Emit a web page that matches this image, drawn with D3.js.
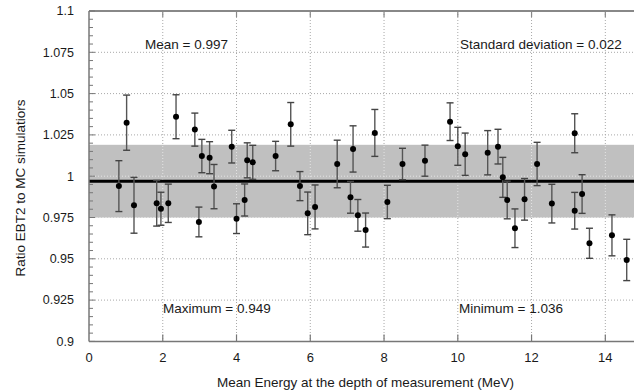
<!DOCTYPE html>
<html><head><meta charset="utf-8">
<script src="https://cdn.jsdelivr.net/npm/d3@7"></script>
<style>
html,body{margin:0;padding:0;background:#fff;overflow:hidden;}
text{font-family:"Liberation Sans",Arial,sans-serif;fill:#1a1a1a;}
</style></head>
<body>
<script>
const energy = [0.81,1.02,1.22,1.835,1.95,2.15,2.36,2.87,2.98,3.06,3.27,3.39,3.87,4.0,4.22,4.29,4.44,5.06,5.47,5.72,5.93,6.13,6.73,7.09,7.16,7.29,7.5,7.75,8.09,8.5,9.11,9.79,10.0,10.2,10.81,11.09,11.22,11.34,11.55,11.81,12.15,12.55,13.17,13.17,13.37,13.57,14.18,14.58];
const ratio = [0.994,1.0324,0.9824,0.9836,0.9803,0.9836,1.036,1.0282,0.9723,1.0122,1.0112,0.9937,1.0179,0.9743,0.9856,1.0096,1.0084,1.0122,1.0314,0.994,0.9775,0.9814,1.0074,0.9872,1.0165,0.9763,0.9674,1.0262,0.9844,1.0074,1.0094,1.033,1.0181,1.0133,1.0142,1.0179,0.9993,0.9856,0.9685,0.986,1.0074,0.9834,1.026,0.9791,0.9892,0.9594,0.9642,0.9493];
const uncertainty = [0.0154,0.0167,0.0169,0.0138,0.010,0.0116,0.0133,0.010,0.009,0.0101,0.0097,0.0134,0.0099,0.009,0.0097,0.0106,0.0103,0.0089,0.0132,0.0088,0.0129,0.0133,0.0144,0.0096,0.014,0.0096,0.0103,0.0142,0.0101,0.0095,0.0094,0.0114,0.0115,0.0128,0.0134,0.0105,0.0121,0.0114,0.0117,0.0126,0.0131,0.0117,0.0118,0.0111,0.0117,0.0091,0.0124,0.0125];
const meanValue = 0.997;
const stdValue = 0.022;
const xTicks = [0,2,4,6,8,10,12,14];
const yTicks = [0.9,0.925,0.95,0.975,1,1.025,1.05,1.075,1.1];
const yTickLabels = ["0.9","0.925","0.95","0.975","1","1.025","1.05","1.075","1.1"];
const annotations = [
  {text:"Mean = 0.997", x:0.0, y:1.075, pos:"tl"},
];
const xLabel = "Mean Energy at the depth of measurement (MeV)";
const yLabel = "Ratio EBT2 to MC simulatiors";

const W = 634, H = 391;
const L = 89, T = 11, B = 341.4;
const x = d3.scaleLinear().domain([0,15]).range([L, L + 15*36.88]);
const y = d3.scaleLinear().domain([0.9,1.1]).range([B, T]);
const R = W;

const svg = d3.select("body").append("svg").attr("width",W).attr("height",H);

// grid
const grid = svg.append("g");
function drawGrid(g, color){
  g.selectAll(".vg").data(xTicks.filter(d=>d>0)).join("line")
    .attr("x1",d=>x(d)).attr("x2",d=>x(d)).attr("y1",T).attr("y2",B)
    .attr("stroke",color).attr("stroke-width",1).attr("stroke-dasharray","1,2");
  g.selectAll(".hg").data(yTicks.filter(d=>d>0.9 && d<1.1)).join("line")
    .attr("y1",d=>y(d)).attr("y2",d=>y(d)).attr("x1",L).attr("x2",R)
    .attr("stroke",color).attr("stroke-width",1).attr("stroke-dasharray","1,2");
}
drawGrid(grid.append("g"), "#a8a8a8");

// band
svg.append("rect").attr("x",L).attr("width",R-L)
  .attr("y",y(meanValue+stdValue)).attr("height",y(meanValue-stdValue)-y(meanValue+stdValue))
  .attr("fill","#c0c0c0");
svg.append("clipPath").attr("id","bandclip").append("rect").attr("x",L).attr("width",R-L)
  .attr("y",y(meanValue+stdValue)).attr("height",y(meanValue-stdValue)-y(meanValue+stdValue));
drawGrid(svg.append("g").attr("clip-path","url(#bandclip)"), "#e4e4e4");

// mean line
svg.append("line").attr("x1",L).attr("x2",R).attr("y1",y(meanValue)).attr("y2",y(meanValue))
  .attr("stroke","#000").attr("stroke-width",3);

// frame
svg.append("line").attr("x1",L).attr("x2",R).attr("y1",T).attr("y2",T).attr("stroke","#888").attr("stroke-width",2);
svg.append("line").attr("x1",L).attr("x2",R).attr("y1",B).attr("y2",B).attr("stroke","#777").attr("stroke-width",1.5);
svg.append("line").attr("x1",L).attr("x2",L).attr("y1",T).attr("y2",B).attr("stroke","#777").attr("stroke-width",1.5);

// x ticks bottom & top
svg.append("g").selectAll("line").data(xTicks.filter(d=>d>0)).join("line")
  .attr("x1",d=>x(d)).attr("x2",d=>x(d)).attr("y1",B).attr("y2",B-7).attr("stroke","#777").attr("stroke-width",1.2);
svg.append("g").selectAll("line").data(xTicks.filter(d=>d>0)).join("line")
  .attr("x1",d=>x(d)).attr("x2",d=>x(d)).attr("y1",T).attr("y2",T+6).attr("stroke","#888").attr("stroke-width",1.2);
// y ticks (major + minor)
const minor = d3.range(0, 41).map(i => 0.9 + i*0.005);
svg.append("g").selectAll("line").data(minor).join("line")
  .attr("x1",L).attr("x2",(d,i)=> i%5===0 ? L+6 : L+4)
  .attr("y1",d=>y(d)).attr("y2",d=>y(d)).attr("stroke","#777").attr("stroke-width",1);

// tick labels
svg.append("g").selectAll("text").data(xTicks).join("text")
  .attr("x",d=>x(d)).attr("y",362).attr("text-anchor","middle").attr("font-size",13).text(d=>d);
svg.append("g").selectAll("text").data(yTicks).join("text")
  .attr("x",74).attr("y",d=>y(d)).attr("dy","0.35em").attr("text-anchor","end").attr("font-size",12.5)
  .text((d,i)=>yTickLabels[i]);

// error bars
const pts = energy.map((e,i)=>({x:e, y:ratio[i], u:uncertainty[i]}));
const eb = svg.append("g");
eb.selectAll(".v").data(pts).join("line")
  .attr("x1",d=>x(d.x)).attr("x2",d=>x(d.x)).attr("y1",d=>y(d.y+d.u)).attr("y2",d=>y(d.y-d.u))
  .attr("stroke","#555").attr("stroke-width",1.4);
eb.selectAll(".ct").data(pts).join("line")
  .attr("x1",d=>x(d.x)-3.5).attr("x2",d=>x(d.x)+3.5).attr("y1",d=>y(d.y+d.u)).attr("y2",d=>y(d.y+d.u))
  .attr("stroke","#444").attr("stroke-width",1.4);
eb.append("g").selectAll("line").data(pts).join("line")
  .attr("x1",d=>x(d.x)-3.5).attr("x2",d=>x(d.x)+3.5).attr("y1",d=>y(d.y-d.u)).attr("y2",d=>y(d.y-d.u))
  .attr("stroke","#444").attr("stroke-width",1.4);
svg.append("g").selectAll("circle").data(pts).join("circle")
  .attr("cx",d=>x(d.x)).attr("cy",d=>y(d.y)).attr("r",3).attr("fill","#000");

// annotations
const fs = 13.5;
svg.append("text").attr("x",145).attr("y",49).attr("font-size",fs).text("Mean = 0.997");
svg.append("text").attr("x",460).attr("y",49).attr("font-size",fs).text("Standard deviation = 0.022");
svg.append("text").attr("x",163).attr("y",313).attr("font-size",fs).text("Maximum = 0.949");
svg.append("text").attr("x",459).attr("y",313).attr("font-size",fs).text("Minimum = 1.036");

// axis labels
svg.append("text").attr("x",365.5).attr("y",387).attr("text-anchor","middle").attr("font-size",13.5).text(xLabel);
svg.append("text").attr("transform","translate(25,188) rotate(-90)").attr("text-anchor","middle").attr("font-size",13.5).text(yLabel);
</script>
</body></html>
